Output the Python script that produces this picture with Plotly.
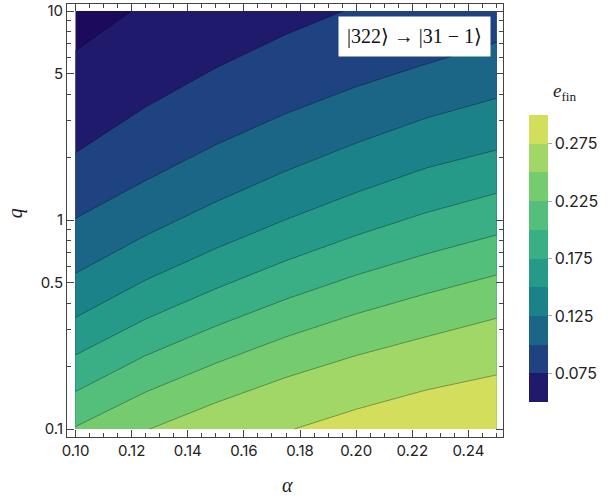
import math

import plotly.graph_objects as go

# plot extent
alpha_range = [0.10, 0.25]
q_range = [0.1, 10.0]

# contour levels and the (alpha, q) points of each level line
levels = [0.05, 0.075, 0.1, 0.125, 0.15, 0.175, 0.2, 0.225, 0.25, 0.275]
alpha_cols = [0.100, 0.125, 0.150, 0.175, 0.200, 0.225, 0.250]

alpha_050 = [0.100, 0.120]
q_050 = [6.46, 10.0]
alpha_075 = [0.100, 0.125, 0.150, 0.175, 0.1954]
q_075 = [2.10, 3.47, 5.34, 7.72, 10.0]
q_100 = [1.019, 1.545, 2.29, 3.23, 4.34, 5.58, 7.07]
q_125 = [0.556, 0.843, 1.221, 1.716, 2.333, 3.076, 3.822]
q_150 = [0.342, 0.516, 0.730, 1.006, 1.352, 1.774, 2.162]
q_175 = [0.226, 0.336, 0.469, 0.639, 0.844, 1.085, 1.342]
q_200 = [0.151, 0.2247, 0.3107, 0.418, 0.545, 0.688, 0.848]
q_225 = [0.1026, 0.1503, 0.2064, 0.276, 0.3557, 0.444, 0.5455]
alpha_250 = [0.1265, 0.150, 0.175, 0.200, 0.225, 0.250]
q_250 = [0.1, 0.1336, 0.1766, 0.2247, 0.2764, 0.3386]
alpha_275 = [0.178, 0.200, 0.225, 0.250]
q_275 = [0.1, 0.1243, 0.1537, 0.1813]

level_lines = [
    (alpha_050, q_050), (alpha_075, q_075), (alpha_cols, q_100),
    (alpha_cols, q_125), (alpha_cols, q_150), (alpha_cols, q_175),
    (alpha_cols, q_200), (alpha_cols, q_225), (alpha_250, q_250),
    (alpha_275, q_275),
]

# fill colours: below first level, then one per band
level_colors = ["#1c0b5c", "#201a6c", "#1e4380", "#1b6687", "#1c828a",
                "#259a89", "#3aae84", "#54bf7b", "#75cc6f", "#a0d766", "#d3df5c"]

x_ticks = [0.10, 0.12, 0.14, 0.16, 0.18, 0.20, 0.22, 0.24]
x_labels = ["0.10", "0.12", "0.14", "0.16", "0.18", "0.20", "0.22", "0.24"]
y_ticks = [0.1, 0.5, 1, 5, 10]
y_labels = ["0.1", "0.5", "1", "5", "10"]
y_minor = [0.2, 0.3, 0.4, 0.6, 0.7, 0.8, 0.9, 2, 3, 4, 6, 7, 8, 9]
bar_ticks = [0.075, 0.125, 0.175, 0.225, 0.275]
bar_range = [0.05, 0.3]

FRAME = "#444444"
TICKFONT = dict(family="Inter, Roboto, sans-serif", size=15, color="#222222")
SERIF = "Liberation Serif, DejaVu Serif, serif"

A0, A1 = alpha_range
Q0, Q1 = q_range
corners = [(A0, Q0, 0.0), (A0, Q1, 1.0), (A1, Q1, 2.0), (A1, Q0, 3.0)]


def perimeter_pos(a, q):
    "Clockwise position of a boundary point, starting at the lower left corner"
    u = (a - A0) / (A1 - A0)
    v = (math.log10(q) - math.log10(Q0)) / (math.log10(Q1) - math.log10(Q0))
    tol = 1e-6
    if u <= tol:
        return v
    if v >= 1 - tol:
        return 1 + u
    if u >= 1 - tol:
        return 2 + (1 - v)
    return 3 + (1 - u)


def corners_between(s_from, s_to):
    if s_to <= s_from:
        s_to += 4
    out = []
    for a, q, s in corners + [(c[0], c[1], c[2] + 4) for c in corners]:
        if s_from < s < s_to:
            out.append((a, q))
    return out


fig = go.Figure()

# whole data rectangle in the colour of the lowest region
fig.add_trace(go.Scatter(
    x=[A0, A0, A1, A1], y=[Q0, Q1, Q1, Q0], fill="toself", mode="lines",
    fillcolor=level_colors[0], line=dict(width=0), hoverinfo="skip",
))

# each level covers everything below-right of its line
for k, (la, lq) in enumerate(level_lines):
    s_start = perimeter_pos(la[0], lq[0])
    s_end = perimeter_pos(la[-1], lq[-1])
    extra = corners_between(s_end, s_start)
    xs = list(la) + [c[0] for c in extra]
    ys = list(lq) + [c[1] for c in extra]
    fig.add_trace(go.Scatter(
        x=xs, y=ys, fill="toself", mode="lines",
        fillcolor=level_colors[k + 1], line=dict(width=0), hoverinfo="skip",
    ))

for la, lq in level_lines:
    fig.add_trace(go.Scatter(
        x=la, y=lq, mode="lines", hoverinfo="skip",
        line=dict(color="rgba(0,0,0,0.55)", width=0.6),
    ))

# stepped colour bar for the bands 0.05 to 0.3
bands = level_colors[1:]
bar_scale = []
for i, c in enumerate(bands):
    bar_scale.append([i / len(bands), c])
    bar_scale.append([(i + 1) / len(bands), c])

fig.add_trace(go.Scatter(
    x=[None], y=[None], mode="markers", showlegend=False,
    marker=dict(
        color=[bar_range[0]], cmin=bar_range[0], cmax=bar_range[1],
        colorscale=bar_scale, showscale=True,
        colorbar=dict(
            x=1.0596, xanchor="left", xpad=0,
            y=0.0808, yanchor="bottom", ypad=0,
            len=287, lenmode="pixels", thickness=19,
            outlinewidth=0,
            tickvals=bar_ticks, ticktext=[f"{v:.3f}" for v in bar_ticks],
            ticks="outside", ticklen=4, tickcolor="#aaaaaa",
            tickfont=dict(TICKFONT, size=16),
        ),
    ),
))

axis_common = dict(
    showline=True, linecolor=FRAME, linewidth=1, mirror="ticks",
    ticks="inside", ticklen=7, tickcolor=FRAME, tickwidth=1,
    showgrid=False, zeroline=False, tickfont=TICKFONT, automargin=False,
)

fig.update_xaxes(
    range=[0.09697, 0.25232], tickvals=x_ticks, ticktext=x_labels,
    minor=dict(ticks="inside", ticklen=4, tickcolor=FRAME, dtick=0.005, tick0=0.1,
               showgrid=False),
    **axis_common,
)
fig.update_yaxes(
    type="log", range=[-1.0383, 1.0335], tickvals=y_ticks, ticktext=y_labels,
    minor=dict(ticks="inside", ticklen=4, tickcolor=FRAME, tickvals=y_minor,
               showgrid=False),
    **axis_common,
)

fig.add_annotation(x=0.5046, y=-0.111, xref="paper", yref="paper",
                   xanchor="center", yanchor="middle",
                   text="<i>α</i>", showarrow=False,
                   font=dict(family=SERIF, size=20, color="#222222"))
fig.add_annotation(x=-0.119, y=0.517, xref="paper", yref="paper",
                   xanchor="center", yanchor="middle",
                   text="<i>q</i>", showarrow=False, textangle=-90,
                   font=dict(family=SERIF, size=20, color="#222222"))
fig.add_annotation(x=1.142, y=0.797, xref="paper", yref="paper",
                   xanchor="center", yanchor="middle",
                   text="<i>e</i><sub>fin</sub>", showarrow=False,
                   font=dict(family=SERIF, size=19, color="#222222"))
fig.add_annotation(x=0.798, y=0.925, xref="paper", yref="paper",
                   xanchor="center", yanchor="middle",
                   text="|322⟩ → |31 − 1⟩", showarrow=False,
                   bgcolor="white", borderpad=8,
                   font=dict(family=SERIF, size=20, color="#111111"))

fig.update_layout(
    width=615, height=501,
    margin=dict(l=67, r=112, t=4, b=64, autoexpand=False),
    paper_bgcolor="white", plot_bgcolor="white",
    showlegend=False,
)

fig.write_html("out.html", config={"displayModeBar": False},
               post_script="document.body.style.margin='0px';")
